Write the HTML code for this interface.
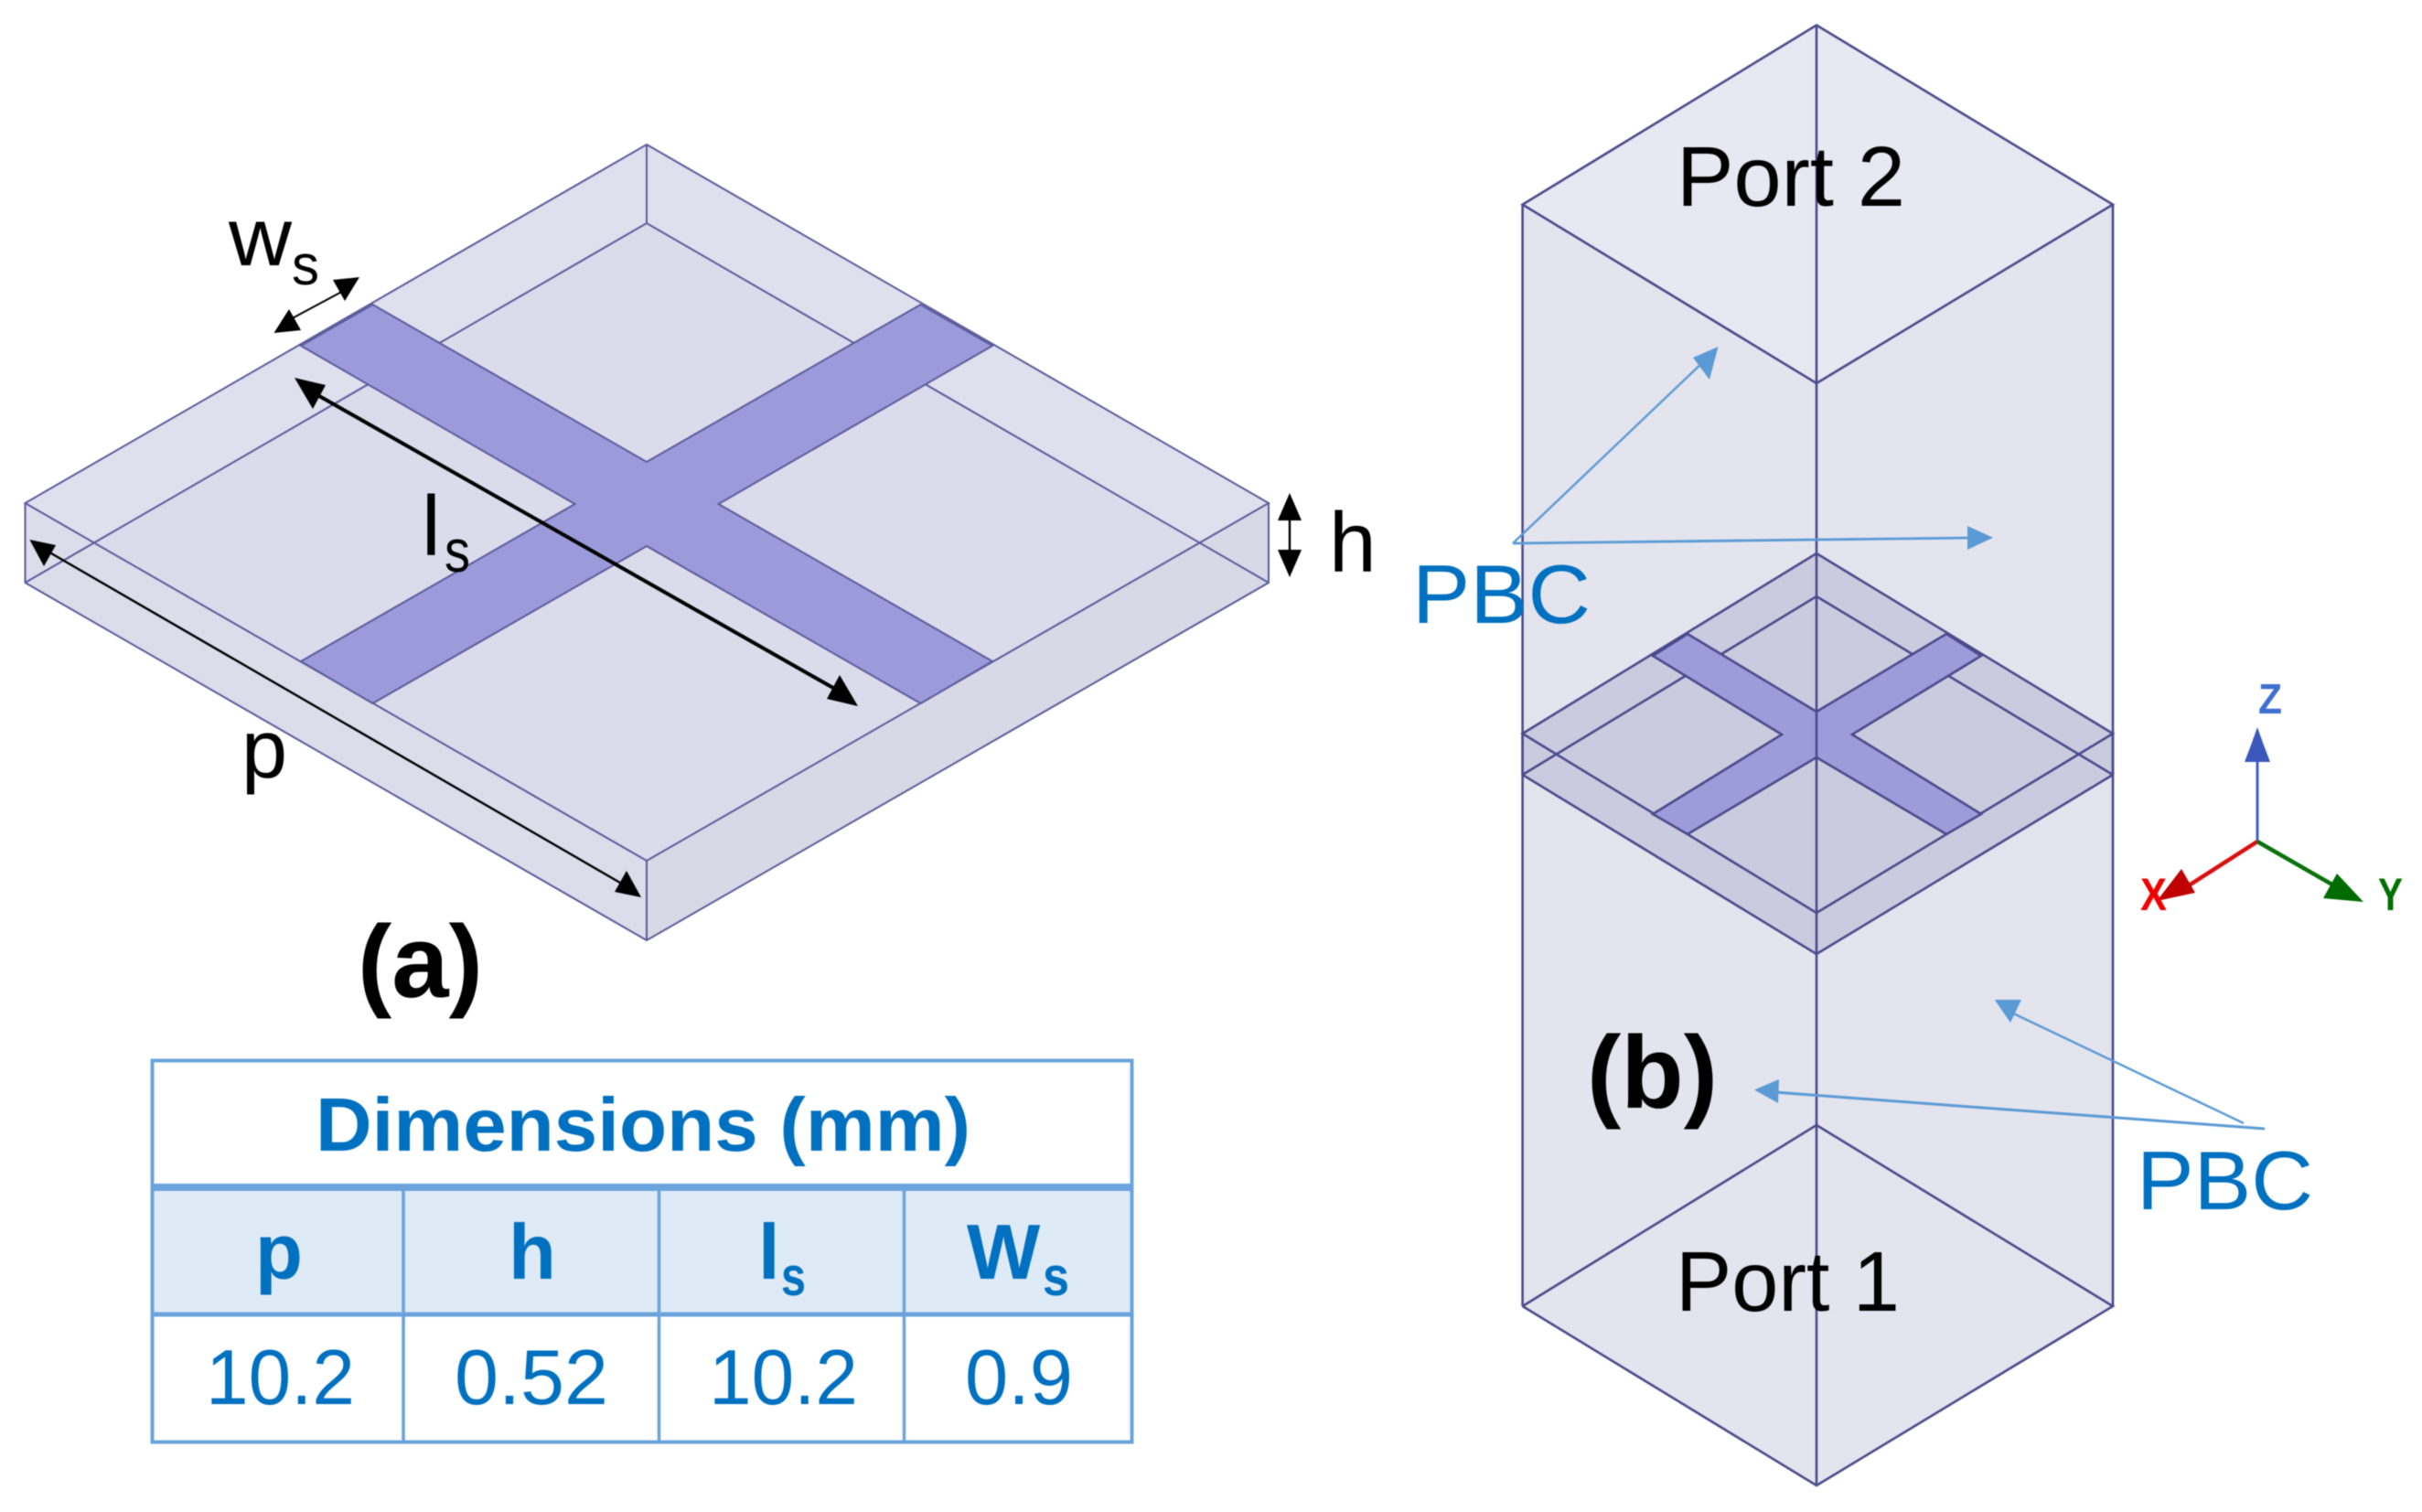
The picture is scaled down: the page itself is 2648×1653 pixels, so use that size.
<!DOCTYPE html>
<html><head><meta charset="utf-8"><style>
html,body{margin:0;padding:0;background:#fff}
svg{display:block;filter:blur(0.6px)}
text{font-family:"Liberation Sans",sans-serif}
</style></head><body>
<svg width="2648" height="1653" viewBox="0 0 2648 1653" xmlns="http://www.w3.org/2000/svg">
<rect width="2648" height="1653" fill="#fff"/>
<!-- (a) substrate -->
<polygon points="707,158 1387,550 1387,637 707,1028 27.5,637 27.5,550" fill="#dfdfee"/>
<polygon points="27.5,637 707,244 1387,637 707,941" fill="#dcdbec"/>
<polygon points="27.5,550 27.5,637 707,1028 707,941" fill="#dcdcea"/>
<polygon points="1387,550 1387,637 707,1028 707,941" fill="#d8d8e6"/>
<g fill="none" stroke="#5c5c9c" stroke-width="2">
<polygon points="707,158 1387,550 707,941 27.5,550"/>
<polyline points="27.5,550 27.5,637 707,1028 1387,637 1387,550"/>
<line x1="707" y1="158" x2="707" y2="244"/>
<line x1="707" y1="941" x2="707" y2="1028"/>
<polyline points="27.5,637 707,244 1387,637"/>
</g>
<polygon points="407.5,333 707,505 1006.5,333 1085,378 785.6,551 1085,723 1006.5,769 707,597 407.5,769 329,723 628.5,551 329,378" fill="#9b9bdb" stroke="#5c5c9c" stroke-width="2"/>
<!-- (a) arrows -->
<g stroke="#000" fill="#000">
<line x1="312" y1="352" x2="381" y2="315" stroke-width="2"/>
<polygon points="299.5,364 329,361 316,338" stroke="none"/>
<polygon points="393,303 364,306 377,329" stroke="none"/>
<line x1="335" y1="425" x2="925" y2="760" stroke-width="4"/>
<polygon points="322,413 356,421 342,447" stroke="none"/>
<polygon points="938,772 904,764 918,738" stroke="none"/>
<line x1="44" y1="598" x2="690" y2="972" stroke-width="2.4"/>
<polygon points="32.4,590 61,596 48,619" stroke="none"/>
<polygon points="701,981 672,975 685,952" stroke="none"/>
<line x1="1410" y1="560" x2="1410" y2="610" stroke-width="2.4"/>
<polygon points="1410,539 1397,569 1423,569" stroke="none"/>
<polygon points="1410,631 1397,601 1423,601" stroke="none"/>
</g>
<!-- (a) labels -->
<g fill="#000">
<text x="250" y="290" font-size="90" textLength="69" lengthAdjust="spacingAndGlyphs">w</text>
<text x="319" y="311" font-size="62" textLength="30" lengthAdjust="spacingAndGlyphs">s</text>
<text x="461" y="607" font-size="93">l</text>
<text x="486" y="625" font-size="66" textLength="28" lengthAdjust="spacingAndGlyphs">s</text>
<text x="264" y="850" font-size="90">p</text>
<text x="1453" y="625" font-size="93">h</text>
<text x="391" y="1090" font-size="112" font-weight="bold">(a)</text>
</g>
<!-- table -->
<rect x="166" y="1298" width="1072" height="139" fill="#deeaf6"/>
<g stroke="#6ba4dc" fill="none">
<rect x="166.5" y="1159.5" width="1071" height="417" stroke-width="4"/>
<line x1="166" y1="1298" x2="1238" y2="1298" stroke-width="8"/>
<line x1="166" y1="1437" x2="1238" y2="1437" stroke-width="5"/>
<line x1="441" y1="1298" x2="441" y2="1577" stroke-width="3.5"/>
<line x1="720.5" y1="1298" x2="720.5" y2="1577" stroke-width="3.5"/>
<line x1="988.5" y1="1298" x2="988.5" y2="1577" stroke-width="3.5"/>
</g>
<g fill="#0070c0">
<text x="345" y="1258" font-size="83" font-weight="bold" textLength="716" lengthAdjust="spacingAndGlyphs">Dimensions (mm)</text>
<text x="279" y="1398" font-size="85" font-weight="bold">p</text>
<text x="556" y="1398" font-size="85" font-weight="bold">h</text>
<text x="829" y="1398" font-size="85" font-weight="bold">l</text>
<text x="854" y="1416" font-size="60" font-weight="bold" textLength="27" lengthAdjust="spacingAndGlyphs">s</text>
<text x="1057" y="1398" font-size="85" font-weight="bold">W</text>
<text x="1140" y="1416" font-size="60" font-weight="bold" textLength="29" lengthAdjust="spacingAndGlyphs">s</text>
<text x="225" y="1535" font-size="85" textLength="163" lengthAdjust="spacingAndGlyphs">10.2</text>
<text x="497" y="1535" font-size="85" textLength="168" lengthAdjust="spacingAndGlyphs">0.52</text>
<text x="775" y="1535" font-size="85" textLength="163" lengthAdjust="spacingAndGlyphs">10.2</text>
<text x="1055" y="1535" font-size="85" textLength="118" lengthAdjust="spacingAndGlyphs">0.9</text>
</g>
<!-- (b) prism -->
<polygon points="1986,27.5 2310,223.6 2310,1428 1986,1624 1664.6,1428 1664.6,223.6" fill="#e4e4ee"/>
<polygon points="1986,27.5 2310,223.6 1986,419 1664.6,223.6" fill="#e8e8f2"/>
<polygon points="1986,605 2310,802 2310,847 1986,1043 1664.6,847 1664.6,802" fill="#cbcbe0"/>
<g fill="none" stroke="#4b4b8c" stroke-width="2.6">
<polygon points="1986,27.5 2310,223.6 1986,419 1664.6,223.6"/>
<polyline points="1664.6,1428 1986,1230 2310,1428 1986,1624 1664.6,1428"/>
<line x1="1664.6" y1="223.6" x2="1664.6" y2="1428"/>
<line x1="2310" y1="223.6" x2="2310" y2="1428"/>
<polygon points="1986,605 2310,802 1986,998 1664.6,802"/>
<polyline points="1664.6,802 1664.6,847 1986,1043 2310,847 2310,802"/>
<polyline points="1664.6,847 1986,652 2310,847"/>
</g>
<polygon points="1845,693 1986,778 2128,693 2166,717 2025,803 2166,890 2128,912 1986,828 1845,912 1807,890 1948,803 1807,717" fill="#9c9cdb" stroke="#4b4b8c" stroke-width="2.6"/>
<line x1="1986" y1="27.5" x2="1986" y2="1624" stroke="#4b4b8c" stroke-width="2.6"/>
<!-- (b) blue arrows -->
<g stroke="#5b9bd5" fill="#5b9bd5">
<line x1="1654" y1="594" x2="1866" y2="392" stroke-width="2.4"/>
<polygon points="1878.5,379 1851,391 1869,415" stroke="none"/>
<line x1="1654" y1="594" x2="2155" y2="588" stroke-width="2.8"/>
<polygon points="2179,587.7 2151,575 2151,601" stroke="none"/>
<line x1="2453" y1="1228" x2="2195" y2="1105" stroke-width="2.4"/>
<polygon points="2180.7,1093 2210,1093 2198,1118" stroke="none"/>
<line x1="2476" y1="1234" x2="1940" y2="1194" stroke-width="3"/>
<polygon points="1918,1191.5 1945,1180 1944,1206" stroke="none"/>
</g>
<!-- (b) labels -->
<text x="1833" y="225" font-size="93" textLength="250" lengthAdjust="spacingAndGlyphs" fill="#000">Port 2</text>
<text x="1832" y="1433" font-size="93" textLength="245" lengthAdjust="spacingAndGlyphs" fill="#000">Port 1</text>
<text x="1735" y="1211" font-size="112" font-weight="bold" fill="#000">(b)</text>
<text x="1544" y="681" font-size="91" textLength="195" lengthAdjust="spacingAndGlyphs" fill="#0070c0">PBC</text>
<text x="2336" y="1322" font-size="91" textLength="193" lengthAdjust="spacingAndGlyphs" fill="#0070c0">PBC</text>
<!-- axes -->
<line x1="2468" y1="920" x2="2468" y2="830" stroke="#3f66c4" stroke-width="3"/>
<polygon points="2468,795 2474,812 2482,833 2454,833 2462,812" fill="#3a57bb"/>
<line x1="2468" y1="920" x2="2390" y2="970" stroke="#d81010" stroke-width="4.5"/>
<polygon points="2358,985 2385,950 2400,976" fill="#c00000"/>
<line x1="2468" y1="920" x2="2555" y2="970" stroke="#0a720a" stroke-width="4.5"/>
<polygon points="2584,986 2540,982 2555,955" fill="#006c00"/>
<text x="2469" y="780" font-size="46" font-weight="bold" textLength="26" lengthAdjust="spacingAndGlyphs" fill="#3f6fd0">Z</text>
<text x="2340" y="995" font-size="50" font-weight="bold" textLength="29" lengthAdjust="spacingAndGlyphs" fill="#f00000">X</text>
<text x="2600" y="995" font-size="50" font-weight="bold" textLength="27" lengthAdjust="spacingAndGlyphs" fill="#007000">Y</text>
</svg>
</body></html>
